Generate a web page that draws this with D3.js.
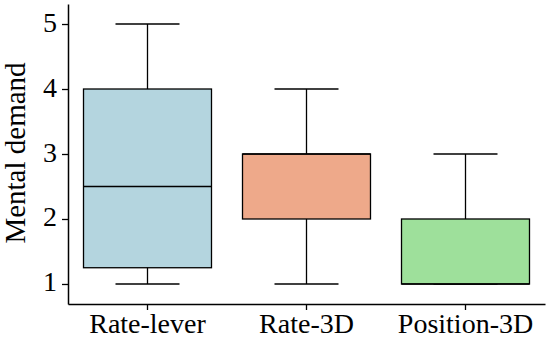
<!DOCTYPE html>
<html>
<head>
<meta charset="utf-8">
<script src="https://cdn.jsdelivr.net/npm/d3@7"></script>
<style>
  body { margin: 0; background: #fff; }
  text { font-family: "Liberation Serif", "Times New Roman", serif; fill: #000; }
</style>
</head>
<body>
<svg id="chart" width="550" height="340"></svg>
<script>
// box stats per group
var categories = ['Rate-lever', 'Rate-3D', 'Position-3D'];
var whiskerLow = [1, 1, 1];
var q1Values = [1.25, 2, 1];
var medians = [2.5, 3, 1];
var q3Values = [4, 3, 2];
var whiskerHigh = [5, 4, 3];
var fillColors = ['#b4d5df', '#eea98a', '#9ee09b'];
var yTicks = [1, 2, 3, 4, 5];

var svg = d3.select('#chart');
var plotLeft = 68, plotRight = 545, plotTop = 4, plotBottom = 304;

var x = d3.scaleBand().domain(categories).range([plotLeft, plotRight]);
var y = d3.scaleLinear().domain([0.692, 5.308]).range([plotBottom, plotTop]);

var boxW = x.bandwidth() * 0.805;
var capW = boxW / 2;

var data = categories.map(function(c, i) {
  return {
    name: c, lo: whiskerLow[i], q1: q1Values[i], med: medians[i],
    q3: q3Values[i], hi: whiskerHigh[i], fill: fillColors[i]
  };
});

var g = svg.append('g').attr('class', 'boxes');
var box = g.selectAll('g.box').data(data).enter().append('g').attr('class', 'box');
var cx = function(d) { return x(d.name) + x.bandwidth() / 2; };

// whiskers
box.append('line')
  .attr('x1', cx).attr('x2', cx)
  .attr('y1', function(d) { return y(d.hi); })
  .attr('y2', function(d) { return y(d.lo); })
  .attr('stroke', '#000').attr('stroke-width', 1.3);

['hi', 'lo'].forEach(function(k) {
  box.append('line')
    .attr('x1', function(d) { return cx(d) - capW / 2; })
    .attr('x2', function(d) { return cx(d) + capW / 2; })
    .attr('y1', function(d) { return y(d[k]); })
    .attr('y2', function(d) { return y(d[k]); })
    .attr('stroke', '#000').attr('stroke-width', 1.3);
});

box.append('rect')
  .attr('x', function(d) { return cx(d) - boxW / 2; })
  .attr('width', boxW)
  .attr('y', function(d) { return y(d.q3); })
  .attr('height', function(d) { return y(d.q1) - y(d.q3); })
  .attr('fill', function(d) { return d.fill; })
  .attr('stroke', '#000').attr('stroke-width', 1.3);

box.append('line')
  .attr('x1', function(d) { return cx(d) - boxW / 2; })
  .attr('x2', function(d) { return cx(d) + boxW / 2; })
  .attr('y1', function(d) { return y(d.med); })
  .attr('y2', function(d) { return y(d.med); })
  .attr('stroke', '#000').attr('stroke-width', 1.3);

// axes
var yAxis = svg.append('g')
  .attr('transform', 'translate(' + plotLeft + ',0)')
  .call(d3.axisLeft(y).tickValues(yTicks).tickFormat(d3.format('d'))
    .tickSize(6).tickPadding(5).tickSizeOuter(0));
var xAxis = svg.append('g')
  .attr('transform', 'translate(0,' + plotBottom + ')')
  .call(d3.axisBottom(x).tickSize(6).tickPadding(3).tickSizeOuter(0));

[yAxis, xAxis].forEach(function(a) {
  a.attr('font-size', null).attr('font-family', null);
  a.select('.domain').attr('stroke', '#000').attr('stroke-width', 1.5);
  a.selectAll('.tick line').attr('stroke', '#000').attr('stroke-width', 1.3);
  a.selectAll('.tick text').style('font-size', '28px');
});
yAxis.selectAll('.tick text').attr('dy', '0.25em');

svg.append('text')
  .attr('transform', 'translate(25,153) rotate(-90)')
  .attr('text-anchor', 'middle')
  .style('font-size', '29px')
  .text('Mental demand');
</script>
</body>
</html>
